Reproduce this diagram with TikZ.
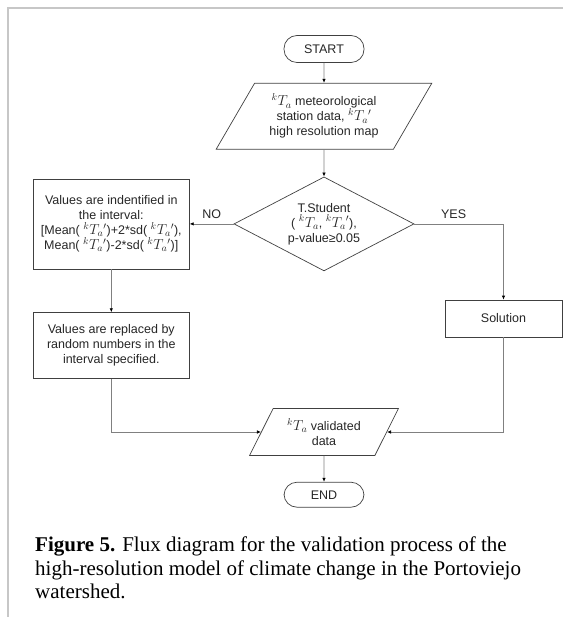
\documentclass[tikz,border=0pt]{standalone}
\usepackage{fontspec}
\setmainfont{Liberation Sans}
\newfontfamily\capfont{Liberation Serif}
\usetikzlibrary{arrows.meta, positioning, shapes.geometric}

\newcommand{\kta}{{\fontsize{14}{15}\selectfont$^{k}T_{a}$}}
\newcommand{\ktap}{{\fontsize{14}{15}\selectfont$^{k}T_{a}{}'$}}

\begin{document}
\begin{tikzpicture}[
    x=1pt, y=-1pt,
    every node/.style={
        font=\fontsize{12.5}{15}\selectfont, align=center,
        inner sep=0pt, text=black!85
    },
    term/.style={draw=black!75, line width=0.7pt, rounded corners=13pt,
        minimum width=80pt, minimum height=27pt},
    proc/.style={draw=black!75, line width=0.7pt, minimum width=156pt},
    io/.style={draw=black!75, line width=0.7pt, trapezium, trapezium stretches=true},
    decision/.style={draw=black!75, line width=0.7pt, diamond, aspect=1.91,
        minimum width=180pt, minimum height=94pt},
    edge/.style={draw=black!50, line width=0.7pt,
        -{Latex[length=4pt, width=3.5pt, color=black]}},
    frame/.style={draw=black!22, line width=2pt},
]
\useasboundingbox (0,0) rectangle (563,617);
\draw[frame] (8,617) -- (8,8) -- (563,8);

% Main column
\node[term] (start) at (324,49) {START};
\node[io, trapezium left angle=56, trapezium right angle=124,
    minimum width=216pt, minimum height=66pt, below=20pt of start] (input)
    {\kta{} meteorological\\station data, \ktap\\high resolution map};
\node[decision, below=27pt of input] (ttest)
    {T.Student\\( \kta, \ktap),\\p-value≥0.05};

% Left branch: NO
\node[proc, minimum height=90pt, left=44pt of ttest] (identify)
    {Values are indentified in\\the interval:\\{}[Mean( \ktap)+2*sd( \ktap),\\Mean( \ktap)-2*sd( \ktap)]};
\node[proc, minimum height=66pt, below=43pt of identify] (replace)
    {Values are replaced by\\random numbers in the\\interval specified.};

% Right branch: YES
\node[proc, minimum width=117pt, minimum height=37pt] (solution) at (503.5,318.5) {Solution};

% Output and end
\node[io, trapezium left angle=58, trapezium right angle=122,
    minimum width=149pt, minimum height=47pt] (validated) at (324,432)
    {\kta{} validated\\data};
\node[term, minimum height=25pt, below=26pt of validated] (stop) {END};

% Caption
\node[font=\capfont\fontsize{21}{23.5}\selectfont, text=black, align=left,
    anchor=north west] (caption) at (35,537)
    {\textbf{Figure 5.} Flux diagram for the validation process of the\\
     high-resolution model of climate change in the Portoviejo\\
     watershed.};

% Edges
\draw[edge] (start) -- (input);
\draw[edge] (input) -- (ttest);
\draw[edge] (ttest.west) -- node[above=5pt] {NO} (identify.east);
\draw[edge] (ttest.east) -| node[pos=0.22, above=5pt] {YES} (solution.north);
\draw[edge] (identify) -- (replace);
\draw[edge] (replace.south) |- (validated.left side);
\draw[edge] (solution.south) |- (validated.right side);
\draw[edge] (validated) -- (stop);
\end{tikzpicture}
\end{document}
